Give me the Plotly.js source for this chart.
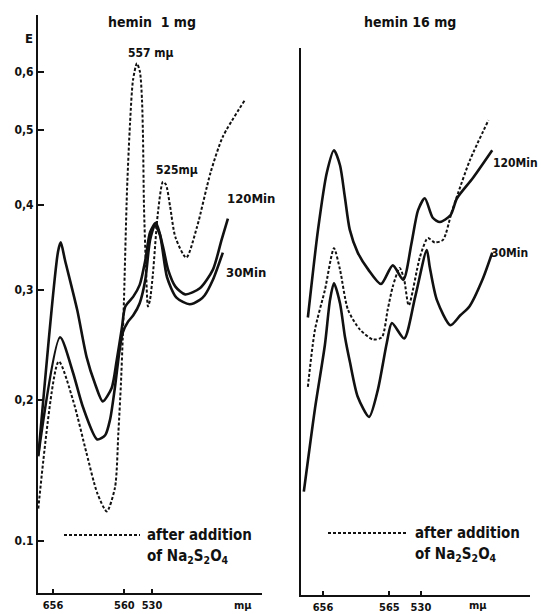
<!DOCTYPE html>
<html>
<head>
<meta charset="utf-8">
<script src="https://cdn.plot.ly/plotly-3.0.1.min.js"></script>
<style>html,body{margin:0;padding:0;background:#fff;}#chart{width:541px;height:614px;}</style>
</head>
<body>
<div id="chart"></div>
<script>
// ---- Data (wavelength in mμ, extinction E) ----
// Panel 1: hemin 1 mg
const left120Wave = [680, 648.2, 644, 637.6, 620, 607, 596, 586, 575, 569, 563, 559, 550, 543, 537, 532, 526, 519, 514, 507, 498, 485, 474, 467, 462];
const left120E    = [0.160, 0.345, 0.356, 0.335, 0.282, 0.239, 0.215, 0.199, 0.211, 0.236, 0.265, 0.285, 0.294, 0.306, 0.335, 0.368, 0.379, 0.351, 0.324, 0.304, 0.296, 0.302, 0.324, 0.359, 0.384];

const left30Wave = [680, 645, 626, 612, 593, 583, 577, 571, 566, 562, 556, 550, 543, 537, 532, 527, 522, 515, 506, 494, 485, 481, 474, 466];
const left30E    = [0.161, 0.257, 0.225, 0.195, 0.172, 0.175, 0.186, 0.212, 0.243, 0.261, 0.271, 0.277, 0.288, 0.312, 0.359, 0.376, 0.365, 0.315, 0.293, 0.287, 0.291, 0.295, 0.312, 0.344];

const leftDithWave = [680, 647, 626, 607, 593, 581, 571, 567, 564, 562, 560.5, 557, 553.6, 550.3, 546, 542.7, 540.5, 539.4, 538.4, 536.3, 534.2, 532.1, 529, 524, 519, 516, 512, 507, 497, 487.5, 476, 466, 449];
const leftDithE    = [0.123, 0.235, 0.200, 0.162, 0.134, 0.121, 0.138, 0.177, 0.215, 0.255, 0.291, 0.420, 0.512, 0.586, 0.615, 0.600, 0.552, 0.487, 0.398, 0.327, 0.285, 0.291, 0.320, 0.391, 0.431, 0.427, 0.398, 0.362, 0.338, 0.374, 0.443, 0.491, 0.552];

// Panel 2: hemin 16 mg
const right120Wave = [681, 664, 650, 639, 630, 623, 616, 605, 591, 575, 561, 549, 540, 533, 526, 518, 511, 501, 495, 481, 465];
const right120E    = [0.275, 0.371, 0.443, 0.473, 0.453, 0.411, 0.371, 0.344, 0.324, 0.307, 0.329, 0.312, 0.355, 0.394, 0.409, 0.385, 0.380, 0.388, 0.409, 0.436, 0.473];

const right30Wave = [688, 669, 653, 645, 639, 630, 622.7, 615.6, 605, 590, 579, 568, 562, 548, 536, 524, 521, 514, 501, 492, 484, 473, 465];
const right30E    = [0.135, 0.194, 0.250, 0.291, 0.308, 0.288, 0.257, 0.234, 0.203, 0.188, 0.209, 0.252, 0.270, 0.256, 0.294, 0.347, 0.327, 0.291, 0.268, 0.277, 0.285, 0.312, 0.344];

const rightDithWave = [681, 669, 653, 639, 630, 618.5, 602, 585, 574, 567, 561, 553, 548, 543, 531, 523, 516, 508, 500, 494, 483.5, 468];
const rightDithE    = [0.212, 0.264, 0.300, 0.349, 0.324, 0.282, 0.264, 0.255, 0.257, 0.282, 0.304, 0.326, 0.312, 0.286, 0.339, 0.361, 0.356, 0.359, 0.391, 0.416, 0.460, 0.517];

// Tick labels
const leftWaveTicks  = [656, 560, 530];
const rightWaveTicks = [656, 565, 530];
const eTicks     = [0.1, 0.2, 0.3, 0.4, 0.5, 0.6];
const eTickText  = ['0.1', '0,2', '0,3', '0,4', '0,5', '0,6'];

// ---- Scales ----
// x: the recorder chart is (nearly) linear in wavenumber, so plot 1e7/λ (cm⁻¹)
function wn(nm) { return 1e7 / nm; }
// y: the printed E scale of the original is non-uniform; reproduce it piecewise
// between its printed ticks (scale units above the baseline).
const scaleE   = [0.1, 0.2, 0.3, 0.4, 0.5, 0.6];
const scalePos = [52, 193, 303, 388, 463, 521];
function eScale(e) {
  let i = 0;
  if (e >= scaleE[scaleE.length - 1]) i = scaleE.length - 2;
  else if (e > scaleE[0]) { while (e > scaleE[i + 1]) i++; }
  return scalePos[i] + (e - scaleE[i]) * (scalePos[i + 1] - scalePos[i]) / (scaleE[i + 1] - scaleE[i]);
}

const FONT = 'Liberation Sans Narrow, DejaVu Sans Condensed, DejaVu Sans, sans-serif';
const INK = '#111';

function curve(wave, E, dashed, xa, ya) {
  return {
    x: wave.map(wn), y: E.map(eScale), xaxis: xa, yaxis: ya,
    mode: 'lines', hoverinfo: 'skip',
    line: { color: INK, width: dashed ? 2 : 2.6, dash: dashed ? '3px,2px' : 'solid', shape: 'spline', smoothing: 0.7 }
  };
}

const traces = [
  curve(left120Wave, left120E, false, 'x', 'y'),
  curve(left30Wave, left30E, false, 'x', 'y'),
  curve(leftDithWave, leftDithE, true, 'x', 'y'),
  curve(right120Wave, right120E, false, 'x2', 'y2'),
  curve(right30Wave, right30E, false, 'x2', 'y2'),
  curve(rightDithWave, rightDithE, true, 'x2', 'y2')
];

const W = 541, H = 614;
function px(x) { return x / W; }
function py(y) { return 1 - y / H; }
function ann(text, x, y, size, xanchor) {
  return { text: text, xref: 'paper', yref: 'paper', x: px(x), y: py(y), showarrow: false,
    xanchor: xanchor || 'center', yanchor: 'middle',
    font: { family: FONT, size: size, color: INK, weight: 'bold' } };
}

const tickFont = { family: FONT, size: 12, color: INK, weight: 'bold' };
const xTickFont = { family: FONT, size: 11, color: INK, weight: 'bold' };
const baseX = { showline: true, linecolor: INK, linewidth: 2, ticks: 'inside', ticklen: 4, tickwidth: 2, tickcolor: INK,
  showgrid: false, zeroline: false, tickfont: xTickFont, ticklabelstandoff: 1, automargin: false, fixedrange: true };

const layout = {
  width: W, height: H,
  margin: { l: 0, r: 0, t: 0, b: 0 },
  paper_bgcolor: '#fff', plot_bgcolor: 'rgba(0,0,0,0)',
  showlegend: false,
  xaxis: Object.assign({}, baseX, { domain: [px(38), px(262)], range: [14695, 22893], anchor: 'y',
    tickvals: leftWaveTicks.map(wn), ticktext: leftWaveTicks.map(String) }),
  yaxis: { domain: [py(593), py(15)], range: [0, 578], anchor: 'x', showline: true, linecolor: INK, linewidth: 2,
    ticks: 'inside', ticklen: 6, tickwidth: 2, tickcolor: INK, showgrid: false, zeroline: false,
    tickvals: eTicks.map(eScale), ticktext: eTickText, tickfont: tickFont, automargin: false, fixedrange: true },
  xaxis2: Object.assign({}, baseX, { domain: [px(301), px(530)], range: [14430, 22903], anchor: 'y2',
    tickvals: rightWaveTicks.map(wn), ticktext: rightWaveTicks.map(String) }),
  yaxis2: { domain: [py(595), py(48)], range: [-2, 545], anchor: 'x2', showline: true, linecolor: INK, linewidth: 2,
    ticks: '', showticklabels: false, showgrid: false, zeroline: false, automargin: false, fixedrange: true },
  annotations: [
    ann('hemin  1 mg', 152, 22, 14),
    ann('hemin 16 mg', 410, 22, 14),
    ann('E', 29, 38, 13),
    ann('557 mμ', 151, 53, 12),
    ann('525mμ', 177, 170, 12),
    ann('120Min', 251, 199, 13),
    ann('30Min', 246, 272, 13),
    ann('120Min', 515, 163, 12),
    ann('30Min', 509, 253, 12),
    ann('mμ', 243, 605, 11),
    ann('mμ', 478, 605, 11),
    ann('after addition', 145, 535, 15, 'left'),
    ann('of Na<sub>2</sub>S<sub>2</sub>O<sub>4</sub>', 145, 556, 15, 'left'),
    ann('after addition', 413, 533, 15, 'left'),
    ann('of Na<sub>2</sub>S<sub>2</sub>O<sub>4</sub>', 413, 554, 15, 'left')
  ],
  shapes: [
    { type: 'line', xref: 'paper', yref: 'paper', x0: px(64), x1: px(140), y0: py(535), y1: py(535),
      line: { color: INK, width: 2, dash: '3px,2px' } },
    { type: 'line', xref: 'paper', yref: 'paper', x0: px(328), x1: px(407), y0: py(533), y1: py(533),
      line: { color: INK, width: 2, dash: '3px,2px' } }
  ]
};

Plotly.newPlot('chart', traces, layout, { staticPlot: true, displayModeBar: false });
</script>
</body>
</html>
